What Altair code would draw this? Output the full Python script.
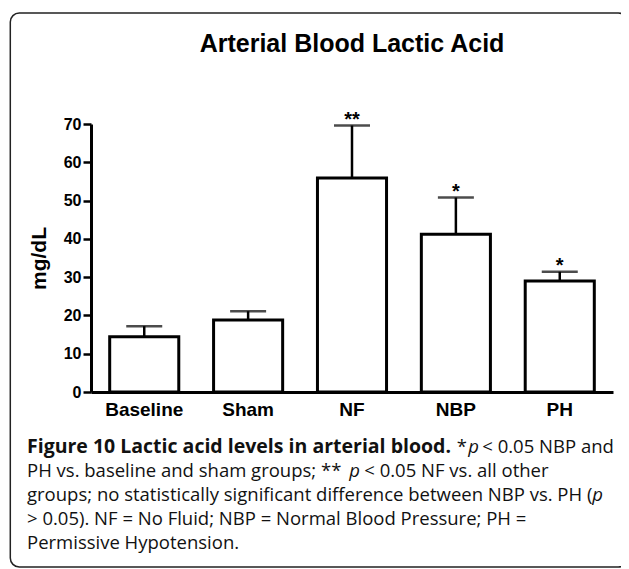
import altair as alt
import pandas as pd

groups = ["Baseline", "Sham", "NF", "NBP", "PH"]
means = [14.4, 18.8, 55.9, 41.2, 29.0]
errors = [2.8, 2.3, 13.7, 9.6, 2.4]
stars = ["", "", "**", "*", "*"]
y_ticks = [0, 10, 20, 30, 40, 50, 60, 70]

df = pd.DataFrame({
    "group": groups,
    "mean": means,
    "upper": [m + e for m, e in zip(means, errors)],
    "star": stars,
})

W, H = 522, 268
AX = "Liberation Sans"
CAP = "Open Sans"

x_axis = alt.Axis(labelAngle=0, ticks=False, labelFont=AX, labelFontSize=19,
                  labelFontWeight="bold", labelColor="black", labelPadding=8,
                  domainColor="black", domainWidth=3)
x_scale = alt.Scale(paddingInner=0.335, paddingOuter=0.18)
y_axis = alt.Axis(values=y_ticks, grid=False, labelFont=AX, labelFontSize=16,
                  labelFontWeight="bold", labelColor="black", labelPadding=2,
                  tickColor="black", tickWidth=2.5, tickSize=8,
                  domainColor="black", domainWidth=3,
                  titleFont=AX, titleFontSize=21, titleFontWeight="bold",
                  titleColor="black", titlePadding=14)
y_scale = alt.Scale(domain=[0, 70], nice=False)

def X():
    return alt.X("group:N", sort=groups, title=None, scale=x_scale, axis=x_axis)

def Y(field):
    return alt.Y(field, scale=y_scale, title="mg/dL", axis=y_axis)

base = alt.Chart(df)

bars = base.mark_bar(fill="white", stroke="black", strokeWidth=3).encode(
    x=X(), y=Y("mean:Q"))

rules = base.mark_rule(color="black", strokeWidth=2.5).encode(
    x=X(), y=Y("mean:Q"), y2="upper:Q")

caps = base.mark_tick(color="black", thickness=2.5, size=36, orient="horizontal").encode(
    x=X(), y=Y("upper:Q"))

star_text = base.mark_text(font=AX, fontSize=20, fontWeight="bold", color="black",
                           baseline="alphabetic", dy=0).encode(
    x=X(), y=Y("upper:Q"), text="star:N")

one = pd.DataFrame({"k": [0]})

# frame around the figure
frame = alt.Chart(one).mark_rect(
    fill=None, stroke="#222222", strokeWidth=1.5, cornerRadius=9
).encode(x=alt.value(-80.7), x2=alt.value(536.3), y=alt.value(-111), y2=alt.value(443))

title = alt.Chart(one).mark_text(
    text="Arterial Blood Lactic Acid", font=AX, fontSize=25, fontWeight="bold",
    color="black", align="center", baseline="alphabetic"
).encode(x=alt.value(W / 2), y=alt.value(-72))

def seg(text, x, y, weight="normal", style="normal", align="left", size=18.5):
    return alt.Chart(one).mark_text(
        text=text, font=CAP, fontSize=size, fontWeight=weight, fontStyle=style,
        color="#111111", align=align, baseline="alphabetic"
    ).encode(x=alt.value(x - 90.7), y=alt.value(y - 124))

L = 26.7
caption = [
    seg("Figure 10 Lactic acid levels in arterial blood.", L, 452.7, weight="bold", size=19.5),
    seg("*", 456.5, 452.7),
    seg("p", 468, 452.7, style="italic"),
    seg("< 0.05 NBP and", 482, 452.7),
    seg("PH vs. baseline and sham groups; **", L, 476.7),
    seg("p", 349, 476.7, style="italic"),
    seg("< 0.05 NF vs. all other", 364, 476.7),
    seg("groups; no statistically significant difference between NBP vs. PH (", L, 501),
    seg("p", 592, 501, style="italic"),
    seg("> 0.05). NF = No Fluid; NBP = Normal Blood Pressure; PH =", L, 525),
    seg("Permissive Hypotension.", L, 548.5),
]

chart = alt.layer(frame, title, bars, rules, caps, star_text, *caption).properties(
    width=W, height=H,
    autosize=alt.AutoSizeParams(type="none"),
    padding={"left": 83, "top": 116, "right": 8, "bottom": 178},
).configure_view(stroke=None)

chart.save("out.html", embed_options={"renderer": "svg", "actions": False})
